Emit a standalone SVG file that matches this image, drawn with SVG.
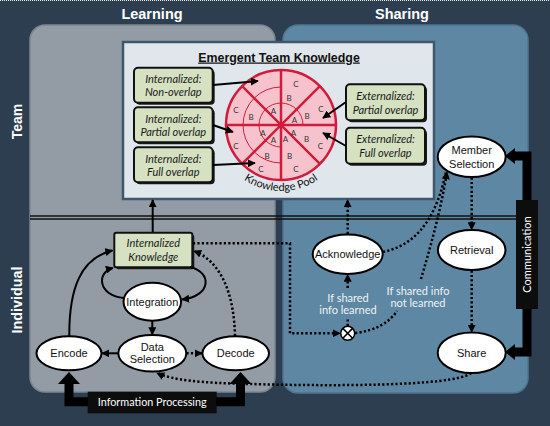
<svg xmlns="http://www.w3.org/2000/svg" width="550" height="426" viewBox="0 0 550 426">
<style>
.ttl{font-family:"Liberation Sans",Arial,sans-serif;font-weight:bold;fill:#fff;text-anchor:middle}
.gbox{fill:#d6e1c2;stroke:#111;stroke-width:2}
.shadow{fill:#1a1a1a}
.gt{font-family:Lato,"Liberation Sans",sans-serif;font-style:italic;font-size:11px;fill:#1a1a1a;text-anchor:middle}
.ell{fill:#fff;stroke:#000;stroke-width:2}
.et{font-family:"Liberation Sans",Arial,sans-serif;font-size:11px;fill:#111;text-anchor:middle}
.solid{fill:none;stroke:#000;stroke-width:2}
.dot{fill:none;stroke:#000;stroke-width:2.5;stroke-dasharray:2.2 2.2}
.lbl{font-family:Lato,"Liberation Sans",sans-serif;font-size:11px;fill:#eef2f5;text-anchor:middle}
.pl{font-family:Lato,"Liberation Sans",sans-serif;font-size:8px;fill:#333;text-anchor:middle}
.thick{fill:none;stroke:#000;stroke-width:9}
</style>
<defs>
<marker id="ah" viewBox="0 0 10 10" refX="9" refY="5" markerWidth="8" markerHeight="8" markerUnits="userSpaceOnUse" orient="auto">
<path d="M0,0 L10,5 L0,10 z" fill="#000"/>
</marker>
</defs>
<rect x="0" y="0" width="550" height="426" fill="#2d3e50"/>
<line x1="0" y1="0.5" x2="550" y2="0.5" stroke="#e8eef2" stroke-width="1" stroke-dasharray="1 1"/>
<g id="panels">
<rect x="30" y="25" width="245" height="367" rx="15" fill="#939ca5" stroke="#7b858f" stroke-width="1.5"/>
<rect x="283" y="25" width="245" height="368" rx="15" fill="#5d87a3" stroke="#4e7692" stroke-width="1.5"/>
<line x1="30" y1="216" x2="516" y2="216" stroke="#111" stroke-width="1.3"/>
<line x1="30" y1="219" x2="516" y2="219" stroke="#111" stroke-width="1.3"/>
</g>
<g id="titles">
<text class="ttl" x="152" y="19" font-size="14.5px">Learning</text>
<text class="ttl" x="402" y="19" font-size="14.5px">Sharing</text>
<text class="ttl" font-size="14px" transform="translate(21.5,121.5) rotate(-90)">Team</text>
<text class="ttl" font-size="14.4px" transform="translate(21.5,300) rotate(-90)">Individual</text>
</g>
<g id="etk">
<rect x="123" y="42" width="311" height="157" fill="#dfe6ec" stroke="#40576b" stroke-width="2.5"/>
<text x="279" y="61.5" font-family="Liberation Sans,Arial,sans-serif" font-weight="bold" font-size="12.4px" text-anchor="middle" text-decoration="underline" fill="#111">Emergent Team Knowledge</text>
</g>
<g id="knowledge-pool">
<circle cx="281" cy="125" r="55" fill="#f6c3cd" stroke="#d01c3c" stroke-width="2.5"/>
<path d="M303,125 A22,22 0 1 0 281,147" fill="none" stroke="#d01c3c" stroke-width="1"/>
<path d="M281,87 A38,38 0 0 0 281,163" fill="none" stroke="#d01c3c" stroke-width="1"/>
<g stroke="#d01c3c" stroke-width="2.5">
<line x1="281" y1="70" x2="281" y2="180"/>
<line x1="226" y1="125" x2="336" y2="125"/>
<line x1="242.1" y1="86.1" x2="319.9" y2="163.9"/>
<line x1="319.9" y1="86.1" x2="242.1" y2="163.9"/>
</g>
<g class="pl">
<text x="296" y="87">C</text><text x="289" y="101">B</text>
<text x="294.5" y="123">A</text><text x="307" y="119">B</text><text x="321" y="112">C</text>
<text x="273.5" y="114">A</text>
<text x="251" y="119.5">B</text><text x="236" y="113">C</text>
<text x="263" y="136">A</text><text x="236" y="148.5">C</text>
<text x="273.5" y="143">A</text><text x="267" y="158.5">B</text><text x="261" y="172">C</text>
<text x="293.5" y="136">A</text><text x="306.5" y="141.5">B</text><text x="320.5" y="148.5">C</text>
<text x="285.5" y="142">A</text><text x="289.5" y="158.5">B</text><text x="296" y="172">C</text>
</g>
<path id="poolarc" d="M226.9,162.9 A66,66 0 0 0 335.1,162.9" fill="none"/>
<text font-family="Lato,Liberation Sans,sans-serif" font-size="11px" fill="#111"><textPath href="#poolarc" startOffset="50%" text-anchor="middle">Knowledge Pool</textPath></text>
</g>
<g id="int-nonoverlap">
<rect class="shadow" x="136" y="69.7" width="78.7" height="35" rx="4"/>
<rect class="gbox" x="134" y="67.7" width="78.7" height="35" rx="4"/>
<text class="gt" x="173.3" y="83">Internalized:</text>
<text class="gt" x="173.3" y="96.3">Non-overlap</text>
</g>
<g id="int-partial">
<rect class="shadow" x="136" y="109.3" width="78.7" height="35" rx="4"/>
<rect class="gbox" x="134" y="107.3" width="78.7" height="35" rx="4"/>
<text class="gt" x="173.3" y="122.6">Internalized:</text>
<text class="gt" x="173.3" y="135.9">Partial overlap</text>
</g>
<g id="int-full">
<rect class="shadow" x="136" y="149.3" width="78.7" height="35" rx="4"/>
<rect class="gbox" x="134" y="147.3" width="78.7" height="35" rx="4"/>
<text class="gt" x="173.3" y="162.6">Internalized:</text>
<text class="gt" x="173.3" y="175.9">Full overlap</text>
</g>
<g id="ext-partial">
<rect class="shadow" x="348" y="86.3" width="79" height="36" rx="4"/>
<rect class="gbox" x="346" y="84.3" width="79" height="36" rx="4"/>
<text class="gt" x="385.5" y="100">Externalized:</text>
<text class="gt" x="385.5" y="113.7">Partial overlap</text>
</g>
<g id="ext-full">
<rect class="shadow" x="348" y="129.7" width="79" height="36" rx="4"/>
<rect class="gbox" x="346" y="127.7" width="79" height="36" rx="4"/>
<text class="gt" x="385.5" y="143.4">Externalized:</text>
<text class="gt" x="385.5" y="157.1">Full overlap</text>
</g>
<g id="internalized-knowledge">
<rect class="shadow" x="116.3" y="234.7" width="78" height="34.6" rx="2"/>
<rect class="gbox" x="114.3" y="232.7" width="78" height="34.6" rx="2"/>
<text class="gt" x="153.3" y="247.3">Internalized</text>
<text class="gt" x="153.3" y="261.3">Knowledge</text>
</g>
<g id="integration">
<ellipse class="ell" cx="152.3" cy="301.7" rx="28.8" ry="19"/>
<text class="et" x="152.3" y="305.5" font-size="10.5px">Integration</text>
</g>
<g id="encode">
<ellipse class="ell" cx="69" cy="353.3" rx="32.5" ry="17"/>
<text class="et" x="69" y="357.3">Encode</text>
</g>
<g id="data-selection">
<ellipse class="ell" cx="152.3" cy="353.3" rx="34" ry="18.3"/>
<text class="et" x="152.3" y="350.5" font-size="10.5px">Data</text>
<text class="et" x="152.3" y="362.8" font-size="10.5px">Selection</text>
</g>
<g id="decode">
<ellipse class="ell" cx="235.7" cy="353.3" rx="33.3" ry="17"/>
<text class="et" x="235.7" y="357.3">Decode</text>
</g>
<g id="acknowledge">
<ellipse class="ell" cx="347.7" cy="254.3" rx="35" ry="19.7"/>
<text class="et" x="347.7" y="257.7" font-size="9.3px">Acknowledge</text>
</g>
<g id="member-selection">
<ellipse class="ell" cx="471.7" cy="156.7" rx="34" ry="20.3"/>
<text class="et" x="471.7" y="154" font-size="10.5px">Member</text>
<text class="et" x="471.7" y="168" font-size="10.5px">Selection</text>
</g>
<g id="retrieval">
<ellipse class="ell" cx="471.7" cy="250" rx="33.8" ry="20"/>
<text class="et" x="471.7" y="254">Retrieval</text>
</g>
<g id="share">
<ellipse class="ell" cx="471.7" cy="352.7" rx="34" ry="20.3"/>
<text class="et" x="471.7" y="356.7">Share</text>
</g>
<g id="gate">
<circle cx="347.7" cy="333.3" r="7" fill="#fff" stroke="#000" stroke-width="1.5"/>
<path d="M342.8,328.4 L352.6,338.2 M352.6,328.4 L342.8,338.2" stroke="#000" stroke-width="1.5"/>
</g>
<g id="information-processing">
<rect x="87.7" y="391.7" width="129" height="21.6" fill="#0d0d0d"/>
<text x="152.2" y="406.3" font-family="Lato,Liberation Sans,sans-serif" font-size="10.8px" fill="#fff" text-anchor="middle">Information Processing</text>
</g>
<g id="communication">
<rect x="516" y="200" width="22" height="109" fill="#0d0d0d"/>
<text font-family="Lato,Liberation Sans,sans-serif" font-size="11px" fill="#fff" text-anchor="middle" transform="translate(531,254.5) rotate(-90)">Communication</text>
</g>
<g id="connectors">
<path class="solid" d="M213,85 L258,81" marker-end="url(#ah)"/>
<path class="solid" d="M213,125 L233,132" marker-end="url(#ah)"/>
<path class="solid" d="M213,165 L255,163" marker-end="url(#ah)"/>
<path class="solid" d="M346,102 L323,118" marker-end="url(#ah)"/>
<path class="solid" d="M346,146 L323,133" marker-end="url(#ah)"/>
<path class="solid" d="M152.7,232 L152.7,200" marker-end="url(#ah)"/>
<path class="dot" d="M347.7,234 L347.7,200" marker-end="url(#ah)"/>
<path class="solid" d="M124,298 C98,296 96,272 113,268" marker-end="url(#ah)"/>
<path class="solid" d="M190,267 C212,272 212,296 182,299.5" marker-end="url(#ah)"/>
<path class="solid" d="M152.3,321 L152.3,334.5" marker-end="url(#ah)"/>
<path class="solid" d="M118,353.3 L102,353.3" marker-end="url(#ah)"/>
<path class="dot" d="M186.5,353.3 L202,353.3" marker-end="url(#ah)"/>
<path class="solid" d="M69.3,336 C69,290 80,258 112.5,250.5" marker-end="url(#ah)"/>
<path class="dot" d="M235,336 C234,295 222,262 194,251" marker-end="url(#ah)"/>
<path class="dot" d="M193,243.3 L290,243.3 L290,333.3 L340,333.3" marker-end="url(#ah)"/>
<path class="dot" d="M347.7,326 L347.7,318"/>
<path class="dot" d="M347.7,288 L347.7,274.5" marker-end="url(#ah)"/>
<path class="dot" d="M355,333 C375,331 390,322 397,311"/>
<path class="dot" d="M421,279 C428,255 440,215 447,172" marker-end="url(#ah)"/>
<path class="dot" d="M383,252 C410,246 434,228 446,172"/>
<path class="dot" d="M471.7,177.5 L471.7,229.5" marker-end="url(#ah)"/>
<path class="dot" d="M471.7,270.5 L471.7,332" marker-end="url(#ah)"/>
<path class="dot" d="M471,373 C455,387 320,386 250,384 C200,383 172,380 157,373" marker-end="url(#ah)"/>
<path class="thick" d="M527,200 L527,156 L514,156"/>
<path d="M505,156 L515,148 L515,164 z" fill="#000"/>
<path class="thick" d="M527,309 L527,352 L514,352"/>
<path d="M505,352 L515,344 L515,360 z" fill="#000"/>
<path class="thick" d="M88,401.7 L69,401.7 L69,383"/>
<path d="M69,372 L58,384 L80,384 z" fill="#000"/>
<path class="thick" d="M216,401.7 L240.5,401.7 L240.5,383"/>
<path d="M240.5,372 L229.5,384 L251.5,384 z" fill="#000"/>
</g>
<g id="labels">
<text class="lbl" x="348" y="302">If shared</text>
<text class="lbl" x="348" y="314">info learned</text>
<text class="lbl" x="418" y="294.5">If shared info</text>
<text class="lbl" x="418" y="306.5">not learned</text>
</g>
</svg>
